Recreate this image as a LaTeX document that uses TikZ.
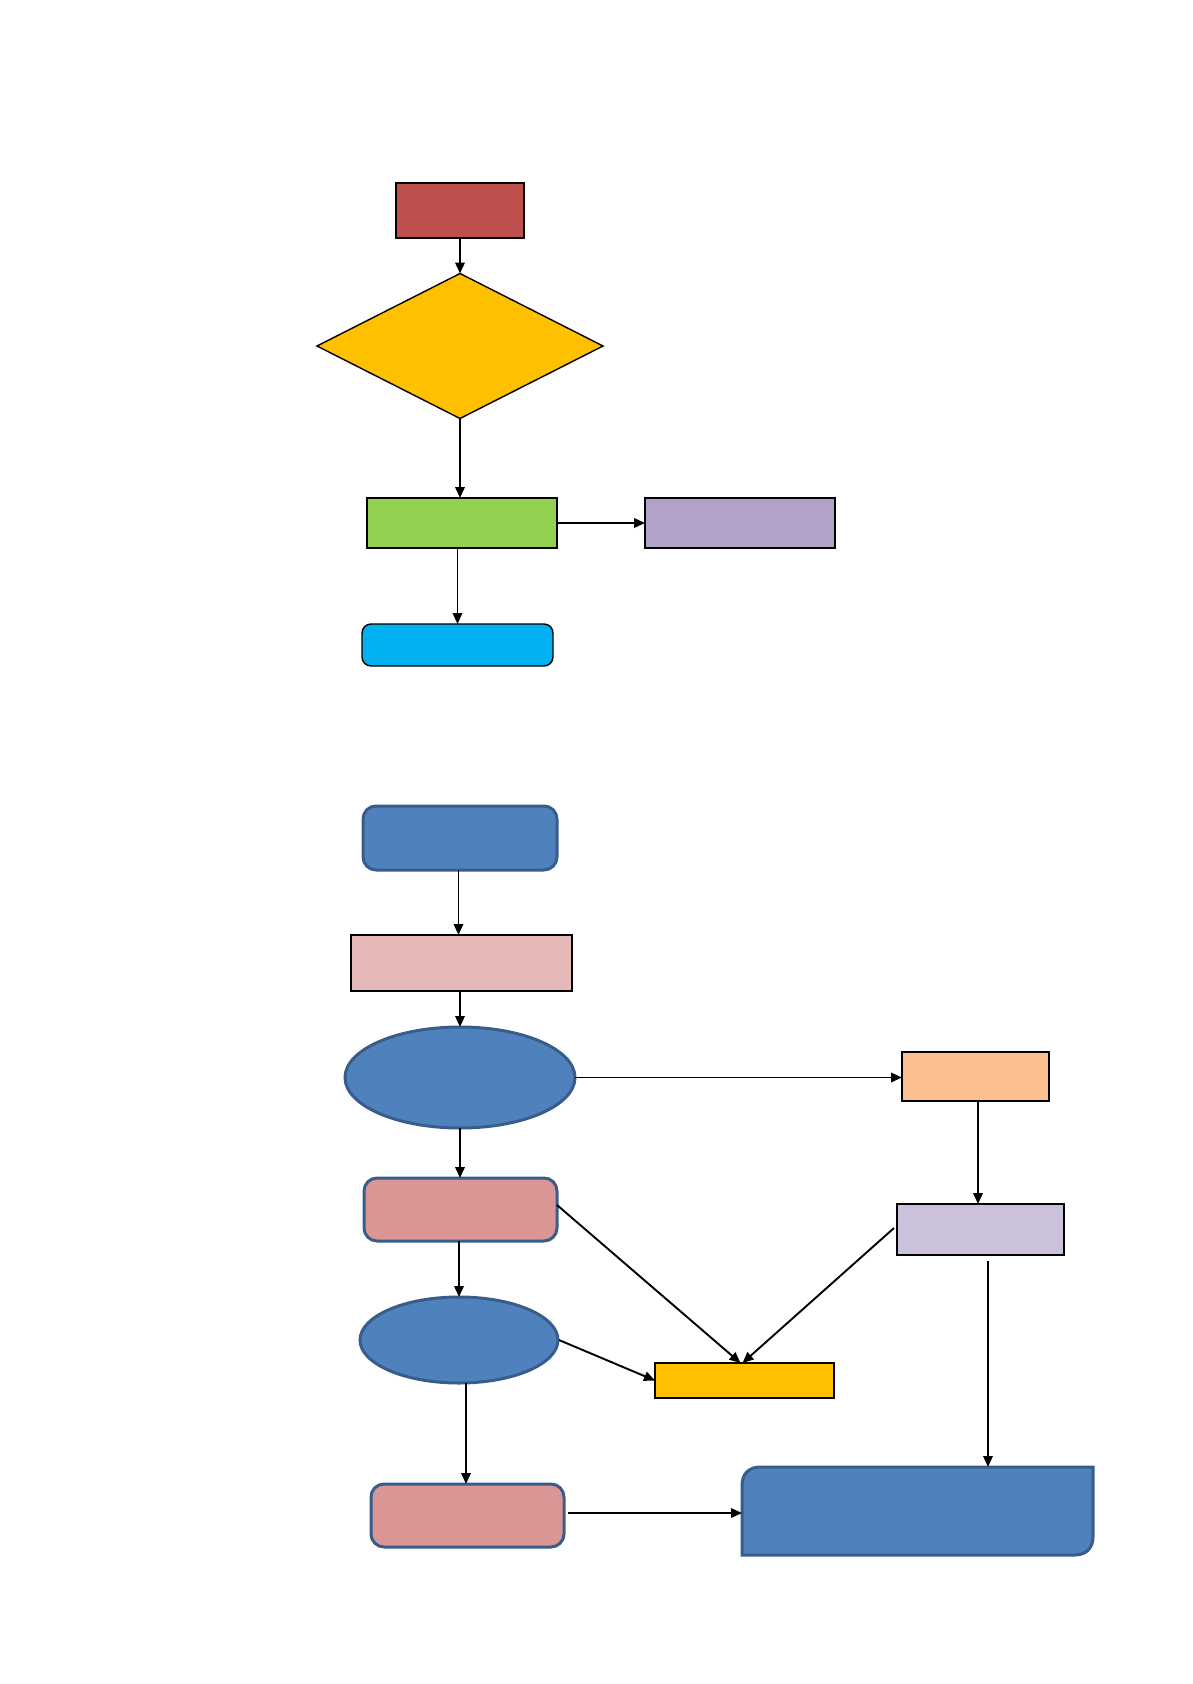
\documentclass[tikz,border=0pt]{standalone}
\usetikzlibrary{shapes.geometric,arrows.meta}
\definecolor{cRed}{HTML}{C0504D}
\definecolor{cYel}{HTML}{FFC000}
\definecolor{cGreen}{HTML}{92D050}
\definecolor{cPurp}{HTML}{B2A2C7}
\definecolor{cCyan}{HTML}{00B0F0}
\definecolor{cBlue}{HTML}{4F81BD}
\definecolor{cBlueB}{HTML}{385D8A}
\definecolor{cPinkL}{HTML}{E6B9B8}
\definecolor{cPink}{HTML}{D99694}
\definecolor{cOrange}{HTML}{FAC090}
\definecolor{cLav}{HTML}{CCC1DA}
\tikzset{
  box/.style={rectangle,draw=black,line width=1.4pt,inner sep=0pt,outer sep=0pt},
  rbox/.style={rectangle,rounded corners=9pt,draw=black,line width=1.4pt,inner sep=0pt,outer sep=0pt},
  bbox/.style={rectangle,rounded corners=13pt,draw=cBlueB,line width=3pt,inner sep=0pt,outer sep=0pt},
  bell/.style={ellipse,draw=cBlueB,line width=3pt,fill=cBlue,inner sep=0pt,outer sep=0pt},
  conn/.style={draw=black,line width=1.9pt,-{Triangle[length=11pt,width=9.5pt]}}
}
\begin{document}
\begin{tikzpicture}[x=1pt,y=-1pt]
\useasboundingbox (0,0) rectangle (1192,1684);
% top flowchart
\node[box,fill=cRed,minimum width=128pt,minimum height=55pt] (red) at (460,210.5) {};
\node[diamond,draw=black,line width=1.4pt,fill=cYel,inner sep=0pt,outer sep=0pt,minimum width=286pt,minimum height=145pt] (dia) at (460,346) {};
\node[box,fill=cGreen,minimum width=190pt,minimum height=50pt] (green) at (462,523) {};
\node[box,fill=cPurp,minimum width=190pt,minimum height=50pt] (purp) at (740,523) {};
\node[rbox,fill=cCyan,minimum width=191pt,minimum height=42pt] (cyan) at (457.5,645) {};
\draw[conn] (red.south) -- (dia.north);
\draw[conn] (dia.south) -- (dia.south |- green.north);
\draw[conn] (green.east) -- (purp.west);
\draw[conn] (cyan.north |- green.south) -- (cyan.north);
% bottom flowchart
\node[bbox,fill=cBlue,minimum width=194pt,minimum height=64pt] (blueA) at (460,838) {};
\node[box,fill=cPinkL,minimum width=221pt,minimum height=56pt] (pinkL) at (461.5,963) {};
\node[bell,minimum width=230pt,minimum height=101pt] (ellA) at (460,1077.5) {};
\node[box,fill=cOrange,minimum width=147pt,minimum height=49pt] (orange) at (975.5,1076.5) {};
\node[bbox,fill=cPink,minimum width=193pt,minimum height=63pt] (pinkA) at (460.5,1209.5) {};
\node[box,fill=cLav,minimum width=167pt,minimum height=51pt] (lav) at (980.5,1229.5) {};
\node[bell,minimum width=198pt,minimum height=86pt] (ellB) at (459,1340) {};
\node[box,fill=cYel,minimum width=179pt,minimum height=35pt] (yel) at (744.5,1380.5) {};
\node[bbox,fill=cPink,minimum width=193pt,minimum height=63pt] (pinkB) at (467.5,1515.5) {};
\node[inner sep=0pt,outer sep=0pt,minimum width=351pt,minimum height=88pt] (big) at (917.5,1511) {};
\draw[cBlueB,line width=3pt,fill=cBlue]
  (742,1555) -- (742,1485) .. controls (742,1474) and (749,1467) .. (760,1467)
  -- (1093,1467) -- (1093,1537) .. controls (1093,1548) and (1086,1555) .. (1075,1555) -- cycle;
\draw[conn] ([xshift=-3pt]blueA.south -| pinkL.north) -- ([xshift=-3pt]pinkL.north);
\draw[conn] (ellA.north |- pinkL.south) -- (ellA.north);
\draw[conn] (ellA.south) -- (ellA.south |- pinkA.north);
\draw[conn] (ellA.east) -- (ellA.east -| orange.west);
\draw[conn] ([xshift=2.5pt]orange.south) -- ([xshift=2.5pt]orange.south |- lav.north);
\draw[conn] ([yshift=4.5pt]pinkA.east) -- ([xshift=-4pt]yel.north);
\draw[conn] ([xshift=-3pt,yshift=1.5pt]lav.west) -- ([xshift=-2pt]yel.north);
\draw[conn] (pinkA.south -| ellB.north) -- (ellB.north);
\draw[conn] ([xshift=1pt]ellB.east) -- (yel.west);
\draw[conn] ([xshift=-1.5pt]ellB.south -| pinkB.north) -- ([xshift=-1.5pt]pinkB.north);
\draw[conn,shorten <=6pt] ([xshift=7.5pt]lav.south) -- ([xshift=7.5pt]lav.south |- big.north);
\draw[conn,shorten <=4pt] ([yshift=2.5pt]pinkB.east) -- ([yshift=2.5pt]pinkB.east -| big.west);
\end{tikzpicture}
\end{document}
